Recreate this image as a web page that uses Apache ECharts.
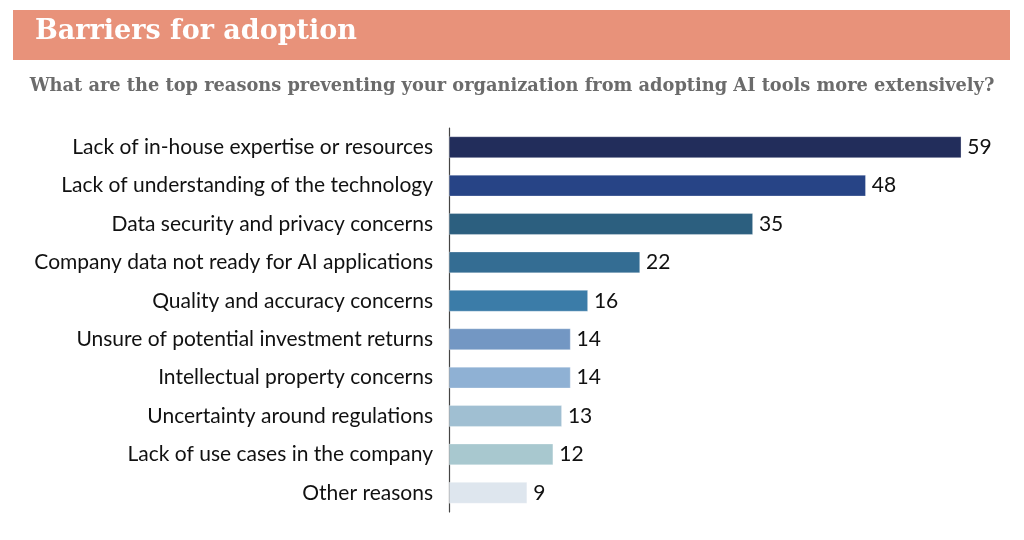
<!DOCTYPE html>
<html><head><meta charset="utf-8">
<script src="https://cdn.jsdelivr.net/npm/echarts@6/dist/echarts.min.js"></script>
<style>html,body{margin:0;padding:0;background:#fff}#c{width:1024px;height:540px}</style>
</head><body><div id="c"></div>
<script>
const categories = [
  "Lack of in-house expertise or resources",
  "Lack of understanding of the technology",
  "Data security and privacy concerns",
  "Company data not ready for AI applications",
  "Quality and accuracy concerns",
  "Unsure of potential investment returns",
  "Intellectual property concerns",
  "Uncertainty around regulations",
  "Lack of use cases in the company",
  "Other reasons"
];
const values = [59, 48, 35, 22, 16, 14, 14, 13, 12, 9];
const barColors = ["#222d5b","#274486","#2c5f7f","#346d93","#3b7ca8","#7397c3","#8fb1d4","#a0bfd2","#a8c8cf","#dee6ee"];
const titleText = "Barriers for adoption";
const subtitleText = "What are the top reasons preventing your organization from adopting AI tools more extensively?";

const chart = echarts.init(document.getElementById('c'));
chart.setOption({
  backgroundColor: '#fff',
  animation: false,
  graphic: [
    { type: 'rect', shape: { x: 13, y: 10, width: 997, height: 50 }, style: { fill: '#e8927a' } },
    { type: 'text', left: 35, top: 18, style: { text: titleText, fill: '#fff', font: 'bold 27px "DejaVu Serif", serif' } },
    { type: 'text', left: 'center', top: 77, style: { text: subtitleText, fill: '#6b6b6b', font: 'bold 17.8px "DejaVu Serif", serif' } }
  ],
  grid: { left: 449, right: 54, top: 128, bottom: 28, containLabel: false },
  xAxis: { type: 'value', min: 0, max: 60, show: false },
  yAxis: {
    type: 'category', inverse: true, data: categories,
    axisLine: { show: true, lineStyle: { color: '#444', width: 1.2 } },
    axisTick: { show: false },
    axisLabel: { color: '#111', fontSize: 21, fontFamily: 'Lato, "Open Sans", sans-serif', margin: 16 }
  },
  series: [{
    type: 'bar',
    data: values.map((v, i) => ({ value: v, itemStyle: { color: barColors[i] } })),
    barWidth: '56%',
    itemStyle: { borderColor: 'rgba(255,255,255,0.5)', borderWidth: 0.6 },
    label: { show: true, position: 'right', distance: 6, color: '#111', fontSize: 21, fontFamily: 'Lato, "Open Sans", sans-serif' }
  }]
});
</script></body></html>
